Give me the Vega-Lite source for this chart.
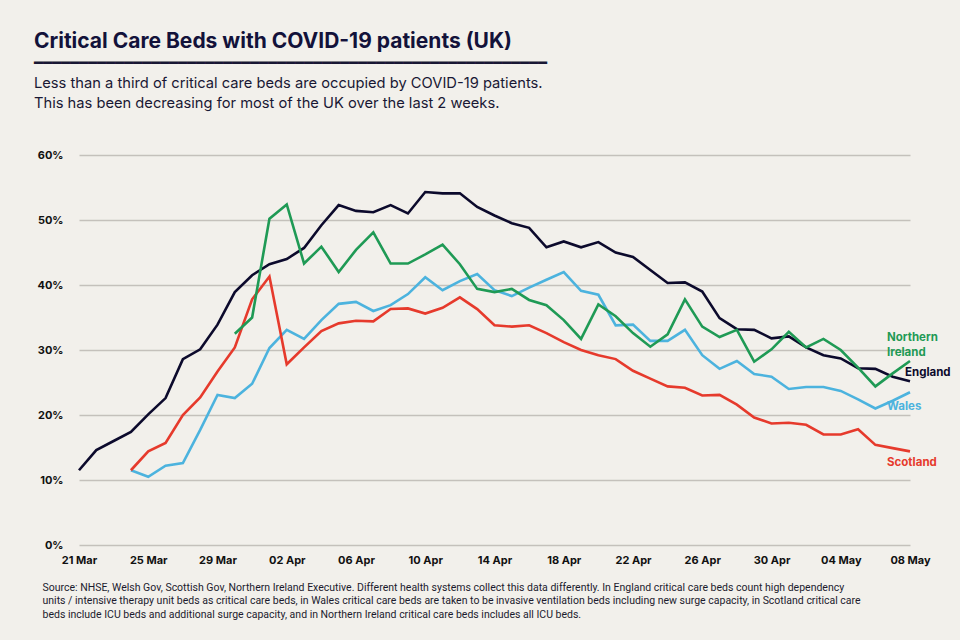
{
  "$schema": "https://vega.github.io/schema/vega-lite/v6.json",
  "width": 831,
  "height": 390,
  "autosize": "none",
  "padding": {"left": 79, "top": 155, "right": 50, "bottom": 95},
  "background": "#f2f0eb",
  "config": {
    "view": {"stroke": null},
    "font": "Inter",
    "text": {"lineBreak": "\n"}
  },
  "title": {
    "text": "Critical Care Beds with COVID-19 patients (UK)",
    "subtitle": ["━━━━━━━━━━━━━━━━━━━━━━━━━━━━━━━━━━━━━━━━━━━━━━━━━━━━━━━━━", "Less than a third of critical care beds are occupied by COVID-19 patients.", "This has been decreasing for most of the UK over the last 2 weeks."],
    "anchor": "start",
    "frame": "group",
    "dx": -45,
    "offset": 38,
    "font": "Inter",
    "fontSize": 21,
    "fontWeight": 700,
    "color": "#13123a",
    "subtitleFont": "Inter",
    "subtitleFontSize": 14.7,
    "subtitleFontWeight": 400,
    "subtitleColor": "#191834",
    "subtitleLineHeight": 20,
    "subtitlePadding": 4
  },
  "data": {
    "values": [
      {"region": "England", "date": "2020-03-21", "value": 11.5},
      {"region": "England", "date": "2020-03-22", "value": 14.6},
      {"region": "England", "date": "2020-03-23", "value": 16.0},
      {"region": "England", "date": "2020-03-24", "value": 17.4},
      {"region": "England", "date": "2020-03-25", "value": 20.1},
      {"region": "England", "date": "2020-03-26", "value": 22.6},
      {"region": "England", "date": "2020-03-27", "value": 28.6},
      {"region": "England", "date": "2020-03-28", "value": 30.1},
      {"region": "England", "date": "2020-03-29", "value": 33.9},
      {"region": "England", "date": "2020-03-30", "value": 38.9},
      {"region": "England", "date": "2020-03-31", "value": 41.5},
      {"region": "England", "date": "2020-04-01", "value": 43.2},
      {"region": "England", "date": "2020-04-02", "value": 44.0},
      {"region": "England", "date": "2020-04-03", "value": 45.7},
      {"region": "England", "date": "2020-04-04", "value": 49.2},
      {"region": "England", "date": "2020-04-05", "value": 52.3},
      {"region": "England", "date": "2020-04-06", "value": 51.4},
      {"region": "England", "date": "2020-04-07", "value": 51.2},
      {"region": "England", "date": "2020-04-08", "value": 52.3},
      {"region": "England", "date": "2020-04-09", "value": 51.0},
      {"region": "England", "date": "2020-04-10", "value": 54.3},
      {"region": "England", "date": "2020-04-11", "value": 54.1},
      {"region": "England", "date": "2020-04-12", "value": 54.1},
      {"region": "England", "date": "2020-04-13", "value": 52.0},
      {"region": "England", "date": "2020-04-14", "value": 50.7},
      {"region": "England", "date": "2020-04-15", "value": 49.5},
      {"region": "England", "date": "2020-04-16", "value": 48.8},
      {"region": "England", "date": "2020-04-17", "value": 45.8},
      {"region": "England", "date": "2020-04-18", "value": 46.7},
      {"region": "England", "date": "2020-04-19", "value": 45.8},
      {"region": "England", "date": "2020-04-20", "value": 46.6},
      {"region": "England", "date": "2020-04-21", "value": 45.0},
      {"region": "England", "date": "2020-04-22", "value": 44.3},
      {"region": "England", "date": "2020-04-23", "value": 42.3},
      {"region": "England", "date": "2020-04-24", "value": 40.3},
      {"region": "England", "date": "2020-04-25", "value": 40.4},
      {"region": "England", "date": "2020-04-26", "value": 39.0},
      {"region": "England", "date": "2020-04-27", "value": 34.9},
      {"region": "England", "date": "2020-04-28", "value": 33.2},
      {"region": "England", "date": "2020-04-29", "value": 33.1},
      {"region": "England", "date": "2020-04-30", "value": 31.8},
      {"region": "England", "date": "2020-05-01", "value": 32.1},
      {"region": "England", "date": "2020-05-02", "value": 30.4},
      {"region": "England", "date": "2020-05-03", "value": 29.2},
      {"region": "England", "date": "2020-05-04", "value": 28.7},
      {"region": "England", "date": "2020-05-05", "value": 27.2},
      {"region": "England", "date": "2020-05-06", "value": 27.1},
      {"region": "England", "date": "2020-05-07", "value": 25.9},
      {"region": "England", "date": "2020-05-08", "value": 25.2},

      {"region": "Wales", "date": "2020-03-24", "value": 11.5},
      {"region": "Wales", "date": "2020-03-25", "value": 10.5},
      {"region": "Wales", "date": "2020-03-26", "value": 12.2},
      {"region": "Wales", "date": "2020-03-27", "value": 12.6},
      {"region": "Wales", "date": "2020-03-28", "value": 17.7},
      {"region": "Wales", "date": "2020-03-29", "value": 23.1},
      {"region": "Wales", "date": "2020-03-30", "value": 22.6},
      {"region": "Wales", "date": "2020-03-31", "value": 24.8},
      {"region": "Wales", "date": "2020-04-01", "value": 30.3},
      {"region": "Wales", "date": "2020-04-02", "value": 33.1},
      {"region": "Wales", "date": "2020-04-03", "value": 31.7},
      {"region": "Wales", "date": "2020-04-04", "value": 34.6},
      {"region": "Wales", "date": "2020-04-05", "value": 37.1},
      {"region": "Wales", "date": "2020-04-06", "value": 37.4},
      {"region": "Wales", "date": "2020-04-07", "value": 36.0},
      {"region": "Wales", "date": "2020-04-08", "value": 36.9},
      {"region": "Wales", "date": "2020-04-09", "value": 38.6},
      {"region": "Wales", "date": "2020-04-10", "value": 41.2},
      {"region": "Wales", "date": "2020-04-11", "value": 39.2},
      {"region": "Wales", "date": "2020-04-12", "value": 40.6},
      {"region": "Wales", "date": "2020-04-13", "value": 41.7},
      {"region": "Wales", "date": "2020-04-14", "value": 39.2},
      {"region": "Wales", "date": "2020-04-15", "value": 38.3},
      {"region": "Wales", "date": "2020-04-16", "value": 39.6},
      {"region": "Wales", "date": "2020-04-17", "value": 40.8},
      {"region": "Wales", "date": "2020-04-18", "value": 42.0},
      {"region": "Wales", "date": "2020-04-19", "value": 39.1},
      {"region": "Wales", "date": "2020-04-20", "value": 38.5},
      {"region": "Wales", "date": "2020-04-21", "value": 33.8},
      {"region": "Wales", "date": "2020-04-22", "value": 33.9},
      {"region": "Wales", "date": "2020-04-23", "value": 31.4},
      {"region": "Wales", "date": "2020-04-24", "value": 31.4},
      {"region": "Wales", "date": "2020-04-25", "value": 33.1},
      {"region": "Wales", "date": "2020-04-26", "value": 29.2},
      {"region": "Wales", "date": "2020-04-27", "value": 27.1},
      {"region": "Wales", "date": "2020-04-28", "value": 28.3},
      {"region": "Wales", "date": "2020-04-29", "value": 26.3},
      {"region": "Wales", "date": "2020-04-30", "value": 25.9},
      {"region": "Wales", "date": "2020-05-01", "value": 24.0},
      {"region": "Wales", "date": "2020-05-02", "value": 24.3},
      {"region": "Wales", "date": "2020-05-03", "value": 24.3},
      {"region": "Wales", "date": "2020-05-04", "value": 23.7},
      {"region": "Wales", "date": "2020-05-05", "value": 22.4},
      {"region": "Wales", "date": "2020-05-06", "value": 21.0},
      {"region": "Wales", "date": "2020-05-07", "value": 22.2},
      {"region": "Wales", "date": "2020-05-08", "value": 23.5},

      {"region": "Scotland", "date": "2020-03-24", "value": 11.5},
      {"region": "Scotland", "date": "2020-03-25", "value": 14.4},
      {"region": "Scotland", "date": "2020-03-26", "value": 15.7},
      {"region": "Scotland", "date": "2020-03-27", "value": 20.0},
      {"region": "Scotland", "date": "2020-03-28", "value": 22.7},
      {"region": "Scotland", "date": "2020-03-29", "value": 26.7},
      {"region": "Scotland", "date": "2020-03-30", "value": 30.4},
      {"region": "Scotland", "date": "2020-03-31", "value": 37.8},
      {"region": "Scotland", "date": "2020-04-01", "value": 41.3},
      {"region": "Scotland", "date": "2020-04-02", "value": 27.8},
      {"region": "Scotland", "date": "2020-04-03", "value": 30.4},
      {"region": "Scotland", "date": "2020-04-04", "value": 32.9},
      {"region": "Scotland", "date": "2020-04-05", "value": 34.1},
      {"region": "Scotland", "date": "2020-04-06", "value": 34.5},
      {"region": "Scotland", "date": "2020-04-07", "value": 34.4},
      {"region": "Scotland", "date": "2020-04-08", "value": 36.3},
      {"region": "Scotland", "date": "2020-04-09", "value": 36.4},
      {"region": "Scotland", "date": "2020-04-10", "value": 35.6},
      {"region": "Scotland", "date": "2020-04-11", "value": 36.5},
      {"region": "Scotland", "date": "2020-04-12", "value": 38.1},
      {"region": "Scotland", "date": "2020-04-13", "value": 36.3},
      {"region": "Scotland", "date": "2020-04-14", "value": 33.8},
      {"region": "Scotland", "date": "2020-04-15", "value": 33.6},
      {"region": "Scotland", "date": "2020-04-16", "value": 33.8},
      {"region": "Scotland", "date": "2020-04-17", "value": 32.6},
      {"region": "Scotland", "date": "2020-04-18", "value": 31.2},
      {"region": "Scotland", "date": "2020-04-19", "value": 30.0},
      {"region": "Scotland", "date": "2020-04-20", "value": 29.2},
      {"region": "Scotland", "date": "2020-04-21", "value": 28.6},
      {"region": "Scotland", "date": "2020-04-22", "value": 26.8},
      {"region": "Scotland", "date": "2020-04-23", "value": 25.6},
      {"region": "Scotland", "date": "2020-04-24", "value": 24.4},
      {"region": "Scotland", "date": "2020-04-25", "value": 24.2},
      {"region": "Scotland", "date": "2020-04-26", "value": 23.0},
      {"region": "Scotland", "date": "2020-04-27", "value": 23.1},
      {"region": "Scotland", "date": "2020-04-28", "value": 21.6},
      {"region": "Scotland", "date": "2020-04-29", "value": 19.6},
      {"region": "Scotland", "date": "2020-04-30", "value": 18.7},
      {"region": "Scotland", "date": "2020-05-01", "value": 18.8},
      {"region": "Scotland", "date": "2020-05-02", "value": 18.5},
      {"region": "Scotland", "date": "2020-05-03", "value": 17.0},
      {"region": "Scotland", "date": "2020-05-04", "value": 17.0},
      {"region": "Scotland", "date": "2020-05-05", "value": 17.8},
      {"region": "Scotland", "date": "2020-05-06", "value": 15.4},
      {"region": "Scotland", "date": "2020-05-07", "value": 14.9},
      {"region": "Scotland", "date": "2020-05-08", "value": 14.4},

      {"region": "Northern Ireland", "date": "2020-03-30", "value": 32.5},
      {"region": "Northern Ireland", "date": "2020-03-31", "value": 35.0},
      {"region": "Northern Ireland", "date": "2020-04-01", "value": 50.2},
      {"region": "Northern Ireland", "date": "2020-04-02", "value": 52.4},
      {"region": "Northern Ireland", "date": "2020-04-03", "value": 43.3},
      {"region": "Northern Ireland", "date": "2020-04-04", "value": 45.9},
      {"region": "Northern Ireland", "date": "2020-04-05", "value": 42.0},
      {"region": "Northern Ireland", "date": "2020-04-06", "value": 45.4},
      {"region": "Northern Ireland", "date": "2020-04-07", "value": 48.1},
      {"region": "Northern Ireland", "date": "2020-04-08", "value": 43.3},
      {"region": "Northern Ireland", "date": "2020-04-09", "value": 43.3},
      {"region": "Northern Ireland", "date": "2020-04-10", "value": 44.7},
      {"region": "Northern Ireland", "date": "2020-04-11", "value": 46.2},
      {"region": "Northern Ireland", "date": "2020-04-12", "value": 43.2},
      {"region": "Northern Ireland", "date": "2020-04-13", "value": 39.4},
      {"region": "Northern Ireland", "date": "2020-04-14", "value": 38.9},
      {"region": "Northern Ireland", "date": "2020-04-15", "value": 39.4},
      {"region": "Northern Ireland", "date": "2020-04-16", "value": 37.7},
      {"region": "Northern Ireland", "date": "2020-04-17", "value": 36.9},
      {"region": "Northern Ireland", "date": "2020-04-18", "value": 34.6},
      {"region": "Northern Ireland", "date": "2020-04-19", "value": 31.7},
      {"region": "Northern Ireland", "date": "2020-04-20", "value": 37.0},
      {"region": "Northern Ireland", "date": "2020-04-21", "value": 35.2},
      {"region": "Northern Ireland", "date": "2020-04-22", "value": 32.6},
      {"region": "Northern Ireland", "date": "2020-04-23", "value": 30.5},
      {"region": "Northern Ireland", "date": "2020-04-24", "value": 32.4},
      {"region": "Northern Ireland", "date": "2020-04-25", "value": 37.8},
      {"region": "Northern Ireland", "date": "2020-04-26", "value": 33.6},
      {"region": "Northern Ireland", "date": "2020-04-27", "value": 32.0},
      {"region": "Northern Ireland", "date": "2020-04-28", "value": 33.1},
      {"region": "Northern Ireland", "date": "2020-04-29", "value": 28.2},
      {"region": "Northern Ireland", "date": "2020-04-30", "value": 30.1},
      {"region": "Northern Ireland", "date": "2020-05-01", "value": 32.8},
      {"region": "Northern Ireland", "date": "2020-05-02", "value": 30.4},
      {"region": "Northern Ireland", "date": "2020-05-03", "value": 31.7},
      {"region": "Northern Ireland", "date": "2020-05-04", "value": 30.0},
      {"region": "Northern Ireland", "date": "2020-05-05", "value": 27.3},
      {"region": "Northern Ireland", "date": "2020-05-06", "value": 24.4},
      {"region": "Northern Ireland", "date": "2020-05-07", "value": 26.4},
      {"region": "Northern Ireland", "date": "2020-05-08", "value": 28.3}
    ]
  },
  "encoding": {
    "x": {
      "field": "date",
      "type": "temporal",
      "timeUnit": "utcyearmonthdate",
      "scale": {"domain": [{"year": 2020, "month": "mar", "date": 21, "utc": true}, {"year": 2020, "month": "may", "date": 8, "utc": true}], "nice": false},
      "axis": {
        "title": ["Source: NHSE, Welsh Gov, Scottish Gov, Northern Ireland Executive. Different health systems collect this data differently. In England critical care beds count high dependency", "units / intensive therapy unit beds as critical care beds, in Wales critical care beds are taken to be invasive ventilation beds including new surge capacity, in Scotland critical care", "beds include ICU beds and additional surge capacity, and in Northern Ireland critical care beds includes all ICU beds."],
        "titleFont": "Roboto",
        "titleFontSize": 10.5,
        "titleFontWeight": 400,
        "titleColor": "#1c1b2e",
        "titleLineHeight": 13.5,
        "titleAnchor": "start",
        "titleAlign": "left",
        "titleBaseline": "top",
        "titleX": -37,
        "titleY": 37,
        "values": [
          {"year": 2020, "month": "mar", "date": 21, "utc": true},
          {"year": 2020, "month": "mar", "date": 25, "utc": true},
          {"year": 2020, "month": "mar", "date": 29, "utc": true},
          {"year": 2020, "month": "apr", "date": 2, "utc": true},
          {"year": 2020, "month": "apr", "date": 6, "utc": true},
          {"year": 2020, "month": "apr", "date": 10, "utc": true},
          {"year": 2020, "month": "apr", "date": 14, "utc": true},
          {"year": 2020, "month": "apr", "date": 18, "utc": true},
          {"year": 2020, "month": "apr", "date": 22, "utc": true},
          {"year": 2020, "month": "apr", "date": 26, "utc": true},
          {"year": 2020, "month": "apr", "date": 30, "utc": true},
          {"year": 2020, "month": "may", "date": 4, "utc": true},
          {"year": 2020, "month": "may", "date": 8, "utc": true}
        ],
        "format": "%d %b",
        "labelFont": "Inter",
        "labelFontSize": 11,
        "labelFontWeight": 700,
        "labelColor": "#111111",
        "labelPadding": 9,
        "labelFlush": false,
        "labelOverlap": false,
        "domain": false,
        "ticks": false,
        "grid": false
      }
    },
    "y": {
      "field": "value",
      "type": "quantitative",
      "scale": {"domain": [0, 60], "nice": false},
      "axis": {
        "title": null,
        "values": [0, 10, 20, 30, 40, 50, 60],
        "labelExpr": "datum.value + '%'",
        "labelFont": "Inter",
        "labelFontSize": 11,
        "labelFontWeight": 700,
        "labelColor": "#111111",
        "labelPadding": 16,
        "domain": false,
        "ticks": false,
        "grid": true,
        "gridColor": "#c4c1bb",
        "gridWidth": 1.3
      }
    },
    "color": {
      "field": "region",
      "type": "nominal",
      "scale": {
        "domain": ["England", "Northern Ireland", "Wales", "Scotland"],
        "range": ["#0c0a2c", "#1f9a55", "#4cb3de", "#e63a2c"]
      },
      "legend": null
    }
  },
  "layer": [
    {
      "mark": {"type": "line", "strokeWidth": 2.6, "strokeJoin": "miter"},
      "encoding": {"detail": {"field": "region"}}
    },
    {
      "transform": [
        {"filter": {"field": "region", "equal": "Northern Ireland"}},
        {"filter": {"field": "date", "timeUnit": "utcyearmonthdate", "equal": {"year": 2020, "month": "may", "date": 8, "utc": true}}},
        {"calculate": "'Northern\\nIreland'", "as": "label"}
      ],
      "mark": {"type": "text", "align": "left", "baseline": "middle", "dx": -23, "dy": -23, "fontSize": 11.5, "fontWeight": 700, "lineHeight": 15},
      "encoding": {"text": {"field": "label"}}
    },
    {
      "transform": [
        {"filter": {"field": "region", "equal": "England"}},
        {"filter": {"field": "date", "timeUnit": "utcyearmonthdate", "equal": {"year": 2020, "month": "may", "date": 8, "utc": true}}}
      ],
      "mark": {"type": "text", "align": "left", "baseline": "middle", "dx": -5, "dy": -8, "fontSize": 11.5, "fontWeight": 700},
      "encoding": {"text": {"field": "region"}}
    },
    {
      "transform": [
        {"filter": {"field": "region", "equal": "Wales"}},
        {"filter": {"field": "date", "timeUnit": "utcyearmonthdate", "equal": {"year": 2020, "month": "may", "date": 8, "utc": true}}}
      ],
      "mark": {"type": "text", "align": "left", "baseline": "middle", "dx": -23, "dy": 15, "fontSize": 11.5, "fontWeight": 700},
      "encoding": {"text": {"field": "region"}}
    },
    {
      "transform": [
        {"filter": {"field": "region", "equal": "Scotland"}},
        {"filter": {"field": "date", "timeUnit": "utcyearmonthdate", "equal": {"year": 2020, "month": "may", "date": 8, "utc": true}}}
      ],
      "mark": {"type": "text", "align": "left", "baseline": "middle", "dx": -23, "dy": 12, "fontSize": 11.5, "fontWeight": 700},
      "encoding": {"text": {"field": "region"}}
    }
  ]
}
